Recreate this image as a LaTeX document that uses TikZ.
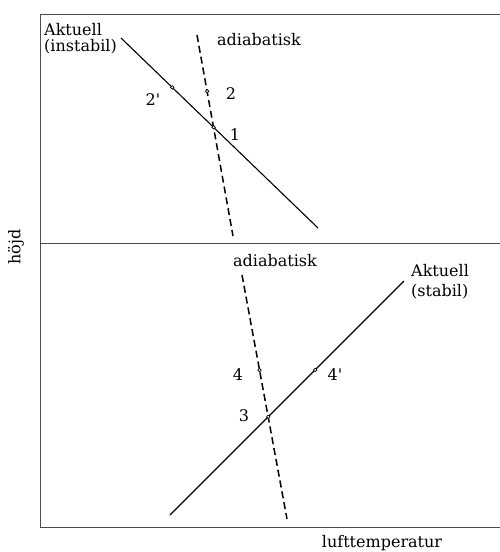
\documentclass[tikz,border=0pt]{standalone}
\usepackage{fontspec}
\setmainfont{DejaVu Serif}
\usetikzlibrary{calc}

\begin{document}
\begin{tikzpicture}[x=1pt,y=-1pt,
  frame/.style={draw=black!70,line width=0.9pt},
  actual/.style={draw=black,line width=1.1pt},
  adiab/.style={draw=black,line width=1.5pt,dash pattern=on 7pt off 4pt},
  pnt/.style={circle,draw=black,fill=white,line width=0.7pt,inner sep=0pt,minimum size=3.5pt},
  lbl/.style={font=\fontsize{16}{16}\selectfont,inner sep=0pt},
  curvelbl/.style={lbl,align=left,anchor=north west}
]
\useasboundingbox (0,0) rectangle (500,552);
% frame and axes
\coordinate (tl) at (40,14);
\coordinate (tr) at (500,14);
\coordinate (ml) at (40,243);
\coordinate (mr) at (500,243);
\coordinate (bl) at (40,527);
\coordinate (br) at (500,527);
\draw[frame] (tr) -- (tl) -- (bl) -- (br);
\draw[frame] (ml) -- (mr);
\node[lbl,rotate=90] (yaxis) at (16,247) {höjd};
\node[lbl] (xaxis) at (382,543) {lufttemperatur};

% upper panel: instabil
\coordinate (ia) at (121,38);
\coordinate (ib) at (318,228);
\coordinate (da) at (197,35);
\coordinate (db) at (233,236);
\draw[actual] (ia) -- (ib);
\draw[adiab] (da) -- (db);
\node[curvelbl] (instab) at (44,23) {Aktuell\\(instabil)};
\node[lbl,anchor=west] (adiabtop) at (217,40) {adiabatisk};
\node[pnt] (p1) at (intersection of ia--ib and da--db) {};
\node[pnt] (p2) at ($(da)!0.28!(db)$) {};
\node[pnt] (p2s) at ($(ia)!0.26!(ib)$) {};
\node[lbl] at (235,135) {1};
\node[lbl] at (231,94) {2};
\node[lbl] at (153,100) {2\textquotesingle};

% lower panel: stabil
\coordinate (sa) at (170,515);
\coordinate (sb) at (404,281);
\coordinate (ea) at (242,275);
\coordinate (eb) at (287,519);
\draw[actual] (sa) -- (sb);
\draw[adiab] (ea) -- (eb);
\node[curvelbl] (stab) at (411,264) {Aktuell\\[4pt](stabil)};
\node[lbl] (adiabbot) at (275,261) {adiabatisk};
\node[pnt] (p3) at (intersection of sa--sb and ea--eb) {};
\node[pnt] (p4) at ($(ea)!0.39!(eb)$) {};
\node[pnt] (p4s) at ($(sa)!0.62!(sb)$) {};
\node[lbl] at (244,416) {3};
\node[lbl] at (238,375) {4};
\node[lbl] at (335,375) {4\textquotesingle};
\end{tikzpicture}
\end{document}
